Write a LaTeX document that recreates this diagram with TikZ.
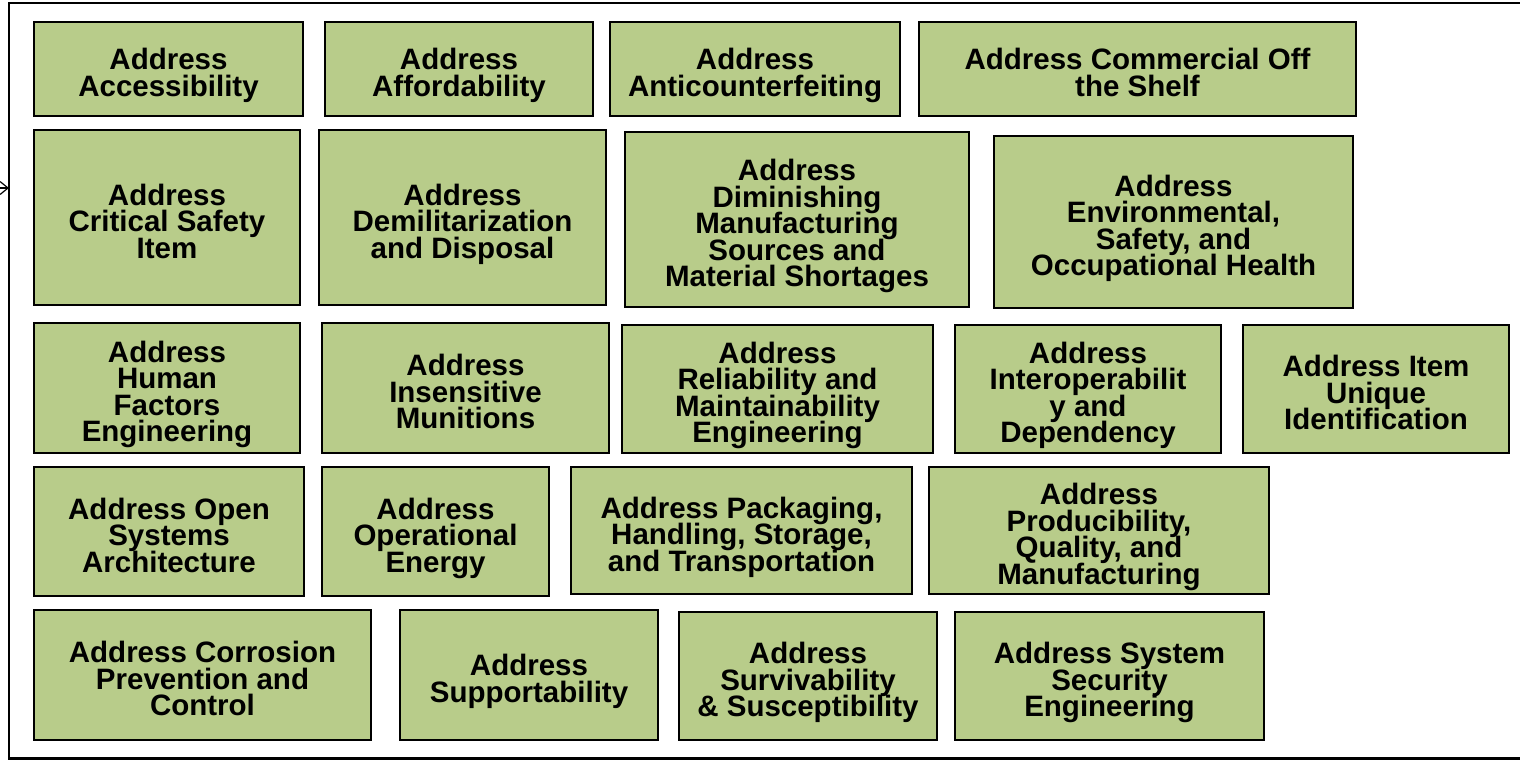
\documentclass[tikz,border=0pt]{standalone}
\usepackage{fontspec}
\setmainfont{Liberation Sans}
\usetikzlibrary{positioning,arrows.meta}
\definecolor{boxgreen}{RGB}{184,204,138}
\setlength{\lineskiplimit}{-100pt}

\begin{document}
\begin{tikzpicture}[
    x=1pt, y=-1pt,
    font=\fontsize{29.5}{26.5}\selectfont\bfseries,
    boxtext/.style={align=center, inner sep=0pt, text depth=0pt,
                    yshift=-3.5pt},
    box/.style   ={draw, line width=2.6pt, fill=boxgreen, inner sep=0pt,
                   label={[boxtext]center:{#1}}},
    sysframe/.style={inner sep=0pt},
    arr/.style={-{Straight Barb[length=8pt,width=13pt]}, line width=1.2pt},
]
\useasboundingbox (0,0) rectangle (1520,760);

% =========================================================
% Outer frame and incoming arrow
% =========================================================
\node[sysframe, minimum width=1800, minimum height=755, anchor=north west]
    (sys) at (9,3) {};
\draw[line width=2.4pt] (sys.north east) -- (sys.north west)
    -- (sys.south west) -- (sys.south east);
\coordinate (in) at (-40,188);
\draw[arr] (in) -- (in -| sys.west);

% =========================================================
% Row 1
% =========================================================
\node[box={Address\\Accessibility},
      minimum width=269, minimum height=94] (acc)  at (168.5,69) {};
\node[box={Address\\Affordability},
      minimum width=268, minimum height=94] (aff)  at (459,69) {};
\node[box={Address\\Anticounterfeiting},
      minimum width=290, minimum height=94] (anti) at (755,69) {};
\node[box={Address Commercial Off\\the Shelf},
      minimum width=437, minimum height=94] (cots) at (1137.5,69) {};

% =========================================================
% Row 2
% =========================================================
\node[box={Address\\Critical Safety\\Item},
      minimum width=266, minimum height=175] (csi)   at (167,217.5) {};
\node[box={Address\\Demilitarization\\and Disposal},
      minimum width=287, minimum height=175] (demil) at (462.5,217.5) {};
\node[box={Address\\Diminishing\\Manufacturing\\Sources and\\Material Shortages},
      minimum width=344, minimum height=175] (dmsms) at (797,219.5) {};
\node[box={Address\\Environmental,\\Safety, and\\Occupational Health},
      minimum width=359, minimum height=172] (esoh)  at (1173.5,222) {};

% =========================================================
% Row 3
% =========================================================
\node[box={Address\\Human\\Factors\\Engineering},
      minimum width=266, minimum height=130] (hfe)     at (167,388) {};
\node[box={Address\\Insensitive\\Munitions},
      minimum width=287, minimum height=130] (im)      at (465.5,388) {};
\node[box={Address\\Reliability and\\Maintainability\\Engineering},
      minimum width=311, minimum height=128] (rm)      at (777.5,389) {};
\node[box={Address\\Interoperabilit\\y and\\Dependency},
      minimum width=266, minimum height=128] (interop) at (1088,389) {};
\node[box={Address Item\\Unique\\Identification},
      minimum width=266, minimum height=128] (iuid)    at (1376,389) {};

% =========================================================
% Row 4
% =========================================================
\node[box={Address Open\\Systems\\Architecture},
      minimum width=270, minimum height=129] (mosa) at (169,531.5) {};
\node[box={Address\\Operational\\Energy},
      minimum width=227, minimum height=129] (oe)   at (435.5,531.5) {};
\node[box={Address Packaging,\\Handling, Storage,\\and Transportation},
      minimum width=341, minimum height=127] (phst) at (741.5,530.5) {};
\node[box={Address\\Producibility,\\Quality, and\\Manufacturing},
      minimum width=340, minimum height=127] (pqm)  at (1099,530.5) {};

% =========================================================
% Row 5
% =========================================================
\node[box={Address Corrosion\\Prevention and\\Control},
      minimum width=337, minimum height=130] (cpc)  at (202.5,675) {};
\node[box={Address\\Supportability},
      minimum width=258, minimum height=130] (sup)  at (529,675) {};
\node[box={Address\\Survivability\\\& Susceptibility},
      minimum width=258, minimum height=128] (surv) at (808,676) {};
\node[box={Address System\\Security\\Engineering},
      minimum width=309, minimum height=128] (sse)  at (1109.5,676) {};

\end{tikzpicture}
\end{document}
